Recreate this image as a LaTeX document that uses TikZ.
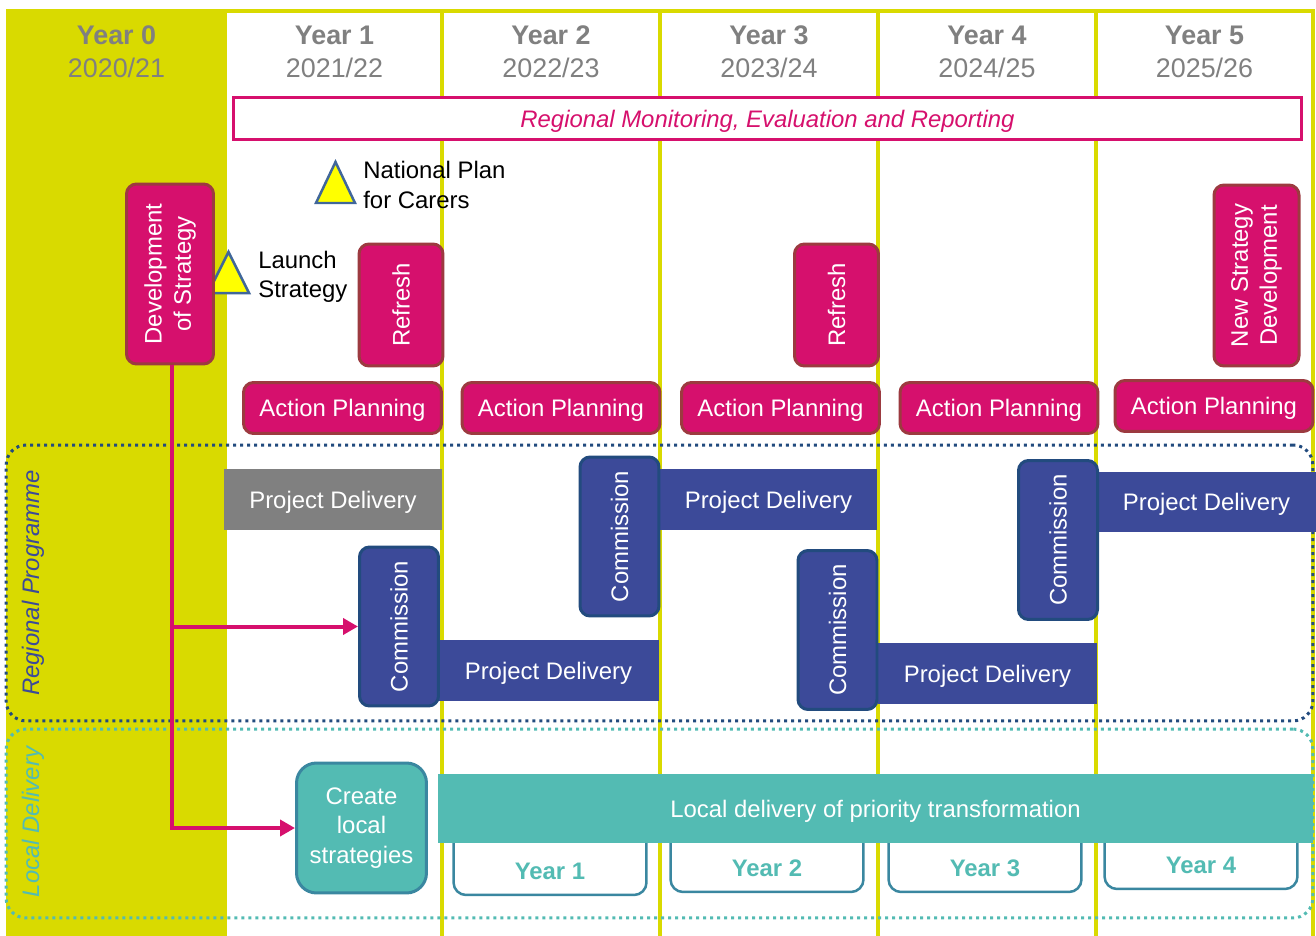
\documentclass[tikz,border=0pt]{standalone}
\usepackage{fontspec}
\setmainfont{Liberation Sans}
\usetikzlibrary{arrows.meta}
\definecolor{yel}{HTML}{D9DA00}
\definecolor{pnk}{HTML}{D6106D}
\definecolor{pnkline}{HTML}{9C3A40}
\definecolor{navy}{HTML}{3C4A99}
\definecolor{navyline}{HTML}{224B7E}
\definecolor{tea}{HTML}{53BBB3}
\definecolor{tealine}{HTML}{3A87A0}
\definecolor{hdr}{HTML}{808080}
\definecolor{tri}{HTML}{FFFF00}
\definecolor{triline}{HTML}{41679A}

\begin{document}
\begin{tikzpicture}[x=0.02cm,y=-0.02cm,inner sep=0pt,font=\fontsize{13.6}{16.6}\selectfont]
\tikzstyle{head}=[align=center,text=hdr,font=\fontsize{15.3}{18.7}\selectfont]
\tikzstyle{plan}=[rectangle,rounded corners=0.2cm,fill=pnk,draw=pnkline,line width=0.06cm,text=white,align=center]
\tikzstyle{upright}=[plan,rotate=90,minimum height=1.74cm]
\tikzstyle{action}=[plan,minimum width=3.96cm,minimum height=1.02cm,text depth=0pt]
\tikzstyle{deliver}=[rectangle,fill=navy,text=white,minimum height=1.22cm,text depth=0pt]
\tikzstyle{commission}=[rectangle,rounded corners=0.2cm,fill=navy,draw=navyline,line width=0.06cm,text=white,rotate=90,minimum width=3.18cm,minimum height=1.58cm]
\tikzstyle{frame}=[rectangle,rounded corners=0.4cm,line width=0.06cm,dash pattern=on 0.06cm off 0.08cm]
\tikzstyle{mile}=[fill=tri,draw=triline,line width=0.05cm,line join=miter]
\tikzstyle{link}=[draw=pnk,line width=0.08cm,-{Triangle[length=0.3cm,width=0.32cm]}]
\tikzstyle{yearbox}=[rectangle,rounded corners=0.25cm,fill=white,draw=tealine,line width=0.05cm,minimum width=3.86cm,minimum height=1.56cm]
\tikzstyle{yeartext}=[text=tea,font=\fontsize{13.6}{16.6}\selectfont\bfseries]
\tikzstyle{side}=[rotate=90,font=\fontsize{13.6}{16.6}\selectfont\itshape]

\useasboundingbox (0,0) rectangle (1316,936);
\fill[yel] (6,9) rectangle (227,936);
\draw[yel,line width=0.07cm] (227,11) -- (1315,11);
\foreach \xx in {442,660,878,1096,1313}
  \draw[yel,line width=0.07cm] (\xx,11) -- (\xx,936);

\node[head] (h0) at (116.5,52) {\textbf{Year 0}\\2020/21};
\node[head] (h1) at (334.5,52) {\textbf{Year 1}\\2021/22};
\node[head] (h2) at (551,52) {\textbf{Year 2}\\2022/23};
\node[head] (h3) at (769,52) {\textbf{Year 3}\\2023/24};
\node[head] (h4) at (987,52) {\textbf{Year 4}\\2024/25};
\node[head] (h5) at (1204.5,52) {\textbf{Year 5}\\2025/26};

\node[draw=pnk,line width=0.06cm,fill=white,minimum width=21.36cm,minimum height=0.86cm,text depth=0pt,text=pnk,font=\fontsize{13.6}{16.6}\selectfont\itshape] (mon) at (767.5,118.5) {Regional Monitoring, Evaluation and Reporting};

\draw[mile] (316,203) -- (335.5,162) -- (355,203) -- cycle;
\node[align=left,anchor=west] (np) at (363,185) {National Plan\\for Carers};
\draw[mile] (208,293) -- (228.5,252) -- (249,293) -- cycle;
\node[align=left,anchor=west] (ls) at (258,277) {Launch\\Strategy};

\node[frame,draw=navyline,minimum width=26.14cm,minimum height=5.52cm] (reg) at (659.5,583) {};
\node[frame,draw=tea,minimum width=26.14cm,minimum height=3.78cm] (loc) at (659.5,823.5) {};
\node[side,text=navy] (regl) at (33,583) {Regional Programme};
\node[side,text=tea] (locl) at (33,822) {Local Delivery};

\node[upright,minimum width=3.6cm] (dev) at (170,274) {Development\\of Strategy};
\node[upright,minimum width=2.44cm,minimum height=1.68cm] (rf1) at (401,305) {Refresh};
\node[upright,minimum width=2.44cm,minimum height=1.68cm] (rf2) at (836.5,305) {Refresh};
\node[upright,minimum width=3.62cm,minimum height=1.7cm] (nsd) at (1256.5,275.5) {New Strategy\\Development};

\node[action] (ap1) at (342.5,408) {Action Planning};
\node[action] (ap2) at (561,408) {Action Planning};
\node[action] (ap3) at (780.5,408) {Action Planning};
\node[action] (ap4) at (999,408) {Action Planning};
\node[action] (ap5) at (1214,406) {Action Planning};

\node[deliver,fill=hdr,minimum width=4.36cm] (pd1) at (333,499.5) {Project Delivery};
\node[deliver,minimum width=4.42cm] (pd2) at (548.5,670.5) {Project Delivery};
\node[deliver,minimum width=4.34cm] (pd3) at (768.5,499.5) {Project Delivery};
\node[deliver,minimum width=4.38cm] (pd4) at (987.5,673.5) {Project Delivery};
\node[deliver,minimum width=4.38cm,minimum height=1.2cm] (pd5) at (1206.5,502) {Project Delivery};

\node[commission] (cm1) at (399,626.5) {Commission};
\node[commission] (cm2) at (619.5,536.5) {Commission};
\node[commission] (cm3) at (837.5,630) {Commission};
\node[commission] (cm4) at (1058,540) {Commission};

\node[yearbox,label={[yeartext,above=0.33cm]south:Year 1}] (ly1) at (550,856) {};
\node[yearbox,label={[yeartext,above=0.33cm]south:Year 2}] (ly2) at (767,853) {};
\node[yearbox,label={[yeartext,above=0.33cm]south:Year 3}] (ly3) at (985,853) {};
\node[yearbox,label={[yeartext,above=0.33cm]south:Year 4}] (ly4) at (1201,850) {};
\node[fill=tea,text=white,minimum width=17.5cm,minimum height=1.38cm,text depth=0pt] (ldp) at (875.5,808.5) {Local delivery of priority transformation};

\node[rectangle,rounded corners=0.4cm,fill=tea,draw=tealine,line width=0.06cm,text=white,align=center,minimum width=2.6cm,minimum height=2.6cm] (cls) at (361.5,828) {Create\\local\\strategies};

\coordinate (drop) at ([xshift=0.04cm]dev.west);
\draw[link] (drop) |- (cls.west);
\draw[link] (drop |- cm1.north) -- (cm1.north);
\end{tikzpicture}
\end{document}
